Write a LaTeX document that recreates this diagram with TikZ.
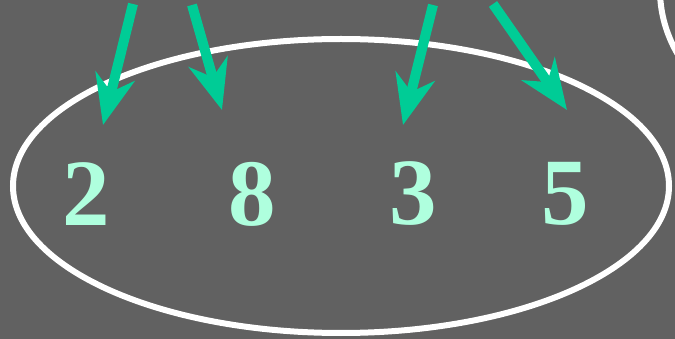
\documentclass[tikz,border=0pt]{standalone}
\usepackage{fontspec}
\setmainfont{Liberation Serif}
\usetikzlibrary{arrows.meta}
\definecolor{board}{RGB}{97,97,97}
\definecolor{arrowgreen}{RGB}{0,204,150}
\definecolor{digitmint}{RGB}{175,255,222}

\begin{document}
\begin{tikzpicture}[x=1pt,y=-1pt,
  digit/.style={text=digitmint,inner sep=0pt,font=\fontsize{95}{95}\selectfont\bfseries},
  pointer/.style={draw=arrowgreen,line width=10pt,-{Stealth[length=50pt,width=40pt,inset=16pt]}}]
\fill[board] (0,0) rectangle (675,339);
\useasboundingbox (0,0) rectangle (675,339);
\begin{scope}
\clip (0,0) rectangle (675,339);
\draw[white,line width=6pt] (341,186) ellipse [x radius=328, y radius=147];
\draw[white,line width=6pt] (845,-10) ellipse [x radius=185, y radius=150];
\end{scope}
\node[digit] (n2) at (86,194) {2};
\node[digit] (n8) at (252,194) {8};
\node[digit] (n3) at (413,194) {3};
\node[digit] (n5) at (565,194) {5};
\foreach \name/\sx/\sy/\tx/\ty in {a/133/4/103/125,b/192/5/222/110,c/433/5/403/125,d/493/4/567/110}{
\coordinate (s\name) at (\sx,\sy);
\coordinate (t\name) at (\tx,\ty);
\draw[pointer] (s\name) -- (t\name);
}
\end{tikzpicture}
\end{document}
